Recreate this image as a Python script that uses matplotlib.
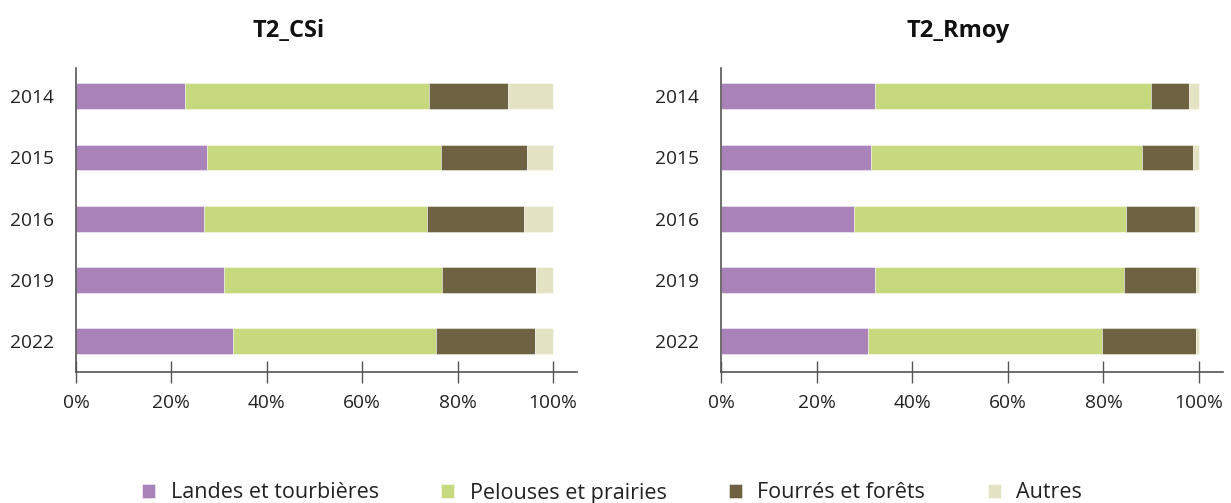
import matplotlib
matplotlib.use("Agg")
import matplotlib.pyplot as plt
import numpy as np

plt.rcParams['font.family'] = ['Open Sans', 'DejaVu Sans']

years = ["2014", "2015", "2016", "2019", "2022"]
categories = ["Landes et tourbières", "Pelouses et prairies", "Fourrés et forêts", "Autres"]
colors = ["#A982B9", "#C6D97E", "#6E6243", "#E3E3C4"]

csi_landes   = [22.9, 27.5, 26.8, 31.0, 32.9]
csi_pelouses = [51.0, 49.1, 46.8, 45.8, 42.6]
csi_fourres  = [16.7, 17.9, 20.2, 19.7, 20.6]
csi_autres   = [9.4, 5.5, 6.2, 3.5, 3.9]

rmoy_landes   = [32.3, 31.3, 27.8, 32.3, 30.7]
rmoy_pelouses = [57.7, 56.8, 57.0, 51.9, 48.9]
rmoy_fourres  = [7.8, 10.7, 14.4, 15.2, 19.8]
rmoy_autres   = [2.2, 1.2, 0.8, 0.6, 0.6]

titles = ["T2_CSi", "T2_Rmoy"]
xticks = [0, 20, 40, 60, 80, 100]
xticklabels = ["0%", "20%", "40%", "60%", "80%", "100%"]

W, H = 1231, 503
fig = plt.figure(figsize=(W/100, H/100), dpi=100)

panels = [
    ([csi_landes, csi_pelouses, csi_fourres, csi_autres], 76, 577, 289),
    ([rmoy_landes, rmoy_pelouses, rmoy_fourres, rmoy_autres], 721, 1223, 958),
]
ytop, ybot = 68, 372
handles = None
for (series, x0, x1, tx), title in zip(panels, titles):
    ax = fig.add_axes([x0/W, 1-ybot/H, (x1-x0)/W, (ybot-ytop)/H])
    y = np.arange(len(years))
    left = np.zeros(len(years))
    hs = []
    for vals, c, lab in zip(series, colors, categories):
        b = ax.barh(y, vals, left=left, height=0.42, color=c, label=lab,
                    edgecolor=(1, 1, 1, 0.5), linewidth=0.6)
        hs.append(b)
        left = left + np.array(vals)
    handles = hs
    ax.set_ylim(4.5, -0.46)
    ax.set_xlim(0, 105)
    ax.set_yticks(y)
    ax.set_yticklabels(years, fontsize=13.8, color="#222222")
    ax.set_xticks(xticks)
    ax.set_xticklabels(xticklabels, fontsize=13.8, color="#222222")
    ax.tick_params(axis='y', length=0, pad=16)
    ax.tick_params(axis='x', direction='inout', length=16, width=1, color="#555555", pad=8)
    for s in ['top', 'right']:
        ax.spines[s].set_visible(False)
    for s in ['left', 'bottom']:
        ax.spines[s].set_color("#555555")
        ax.spines[s].set_linewidth(1.2)
    fig.text(tx/W, 1-31/H, title, ha='center', va='center', fontsize=17, fontweight='bold', color="#111111")

fig.legend(handles, categories, loc='center', bbox_to_anchor=(612/W, 1-493/H), ncol=4,
           frameon=False, fontsize=15.5, handlelength=0.62, handleheight=0.62,
           handletextpad=0.7, columnspacing=2.9, labelcolor="#222222")

fig.savefig("out.png", dpi=100)
